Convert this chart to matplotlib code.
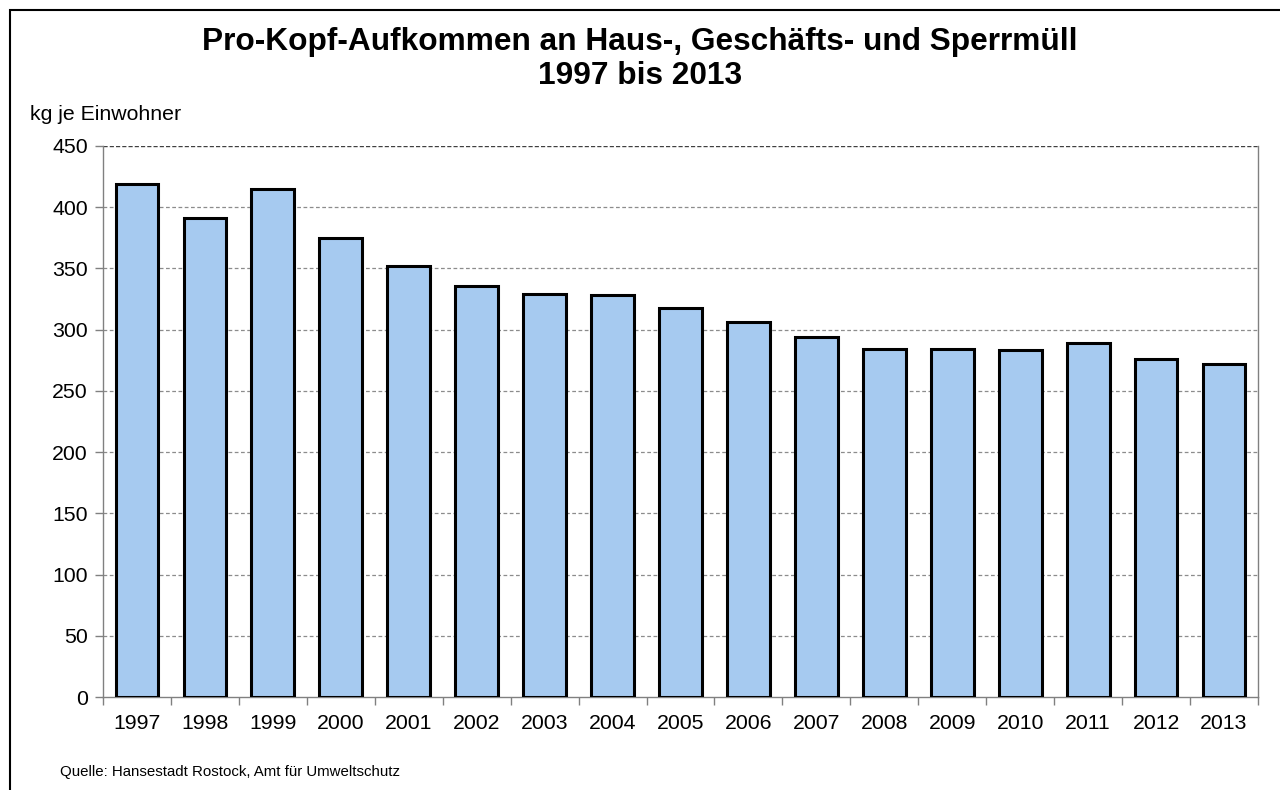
import matplotlib
matplotlib.use("Agg")
import matplotlib.pyplot as plt
from matplotlib.patches import Rectangle
import numpy as np

plt.rcParams['font.family'] = ['Liberation Sans', 'DejaVu Sans']

# Pro-Kopf-Aufkommen (kg je Einwohner)
years = ['1997', '1998', '1999', '2000', '2001', '2002', '2003', '2004', '2005',
         '2006', '2007', '2008', '2009', '2010', '2011', '2012', '2013']
kg_per_head = [419, 391, 415, 375, 352, 336, 329, 328, 318,
               306, 294, 284, 284, 283, 289, 276, 272]
yticks = [0, 50, 100, 150, 200, 250, 300, 350, 400, 450]

fig = plt.figure(figsize=(12.8, 7.9), dpi=100)
ax = fig.add_axes([0.0805, 0.1177, 0.9023, 0.6975])

x = np.arange(len(years))
ax.bar(x, kg_per_head, width=0.63, color='#A6CAF0', edgecolor='black',
       linewidth=2.2, zorder=3)

ax.set_xlim(-0.5, len(years) - 0.5)
ax.set_ylim(0, 450)
ax.set_yticks(yticks)
ax.set_yticklabels([str(v) for v in yticks], fontsize=15.3)

# category labels centred, tick marks between categories
ax.set_xticks(x)
ax.set_xticklabels(years, fontsize=15.3)
ax.tick_params(axis='x', length=0, pad=12)
ax.set_xticks(np.arange(-0.5, len(years)), minor=True)
ax.tick_params(axis='x', which='minor', length=6, color='#808080', width=1)
ax.tick_params(axis='y', length=6, color='#808080', width=1, pad=5)

for v in yticks[1:-1]:
    ax.axhline(v, color='#8c8c8c', linestyle=(0, (3, 2)), linewidth=0.9, zorder=1)
ax.axhline(450, color='#404040', linestyle=(0, (3, 1.5)), linewidth=1.0, zorder=1)

ax.spines['top'].set_visible(False)
ax.spines['left'].set_color('#808080')
ax.spines['bottom'].set_color('#808080')
ax.spines['right'].set_color('#808080')
for s in ax.spines.values():
    s.set_linewidth(1.0)

fig.text(0.5, 1 - 42 / 790, 'Pro-Kopf-Aufkommen an Haus-, Geschäfts- und Sperrmüll',
         ha='center', va='center', fontsize=22.8, fontweight='bold')
fig.text(0.5, 1 - 76 / 790, '1997 bis 2013', ha='center', va='center',
         fontsize=22.8, fontweight='bold')
fig.text(30 / 1280, 1 - 115 / 790, 'kg je Einwohner', ha='left', va='center',
         fontsize=15.3)
fig.text(60 / 1280, 1 - 772 / 790, 'Quelle: Hansestadt Rostock, Amt für Umweltschutz',
         ha='left', va='center', fontsize=10.8)

# outer chart frame
fig.patches.append(Rectangle((10 / 1280, -0.1), 1.2, 1 - 10 / 790 + 0.1,
                             transform=fig.transFigure, fill=False,
                             edgecolor='black', linewidth=1.5))

fig.savefig('out.png', dpi=100)
